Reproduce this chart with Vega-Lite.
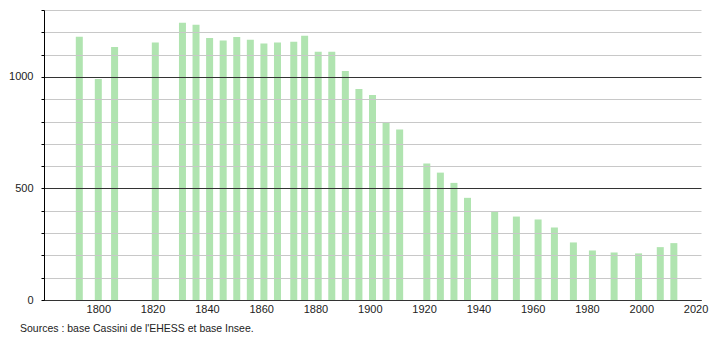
{
  "$schema": "https://vega.github.io/schema/vega-lite/v6.json",
  "width": 657,
  "height": 290,
  "autosize": "none",
  "padding": {"left": 44, "top": 10, "right": 9, "bottom": 40},
  "background": "white",
  "config": {"view": {"stroke": null}, "font": "Liberation Sans"},
  "title": {"text": "Sources : base Cassini de l'EHESS et base Insee.", "orient": "bottom", "anchor": "start", "frame": "group", "dx": -24, "offset": 10, "fontSize": 10.5, "fontWeight": "normal", "color": "#222", "font": "Liberation Sans"},
  "data": {"values": [
    {"annee": 1793, "population": 1180},
    {"annee": 1800, "population": 991},
    {"annee": 1806, "population": 1134},
    {"annee": 1821, "population": 1154},
    {"annee": 1831, "population": 1243},
    {"annee": 1836, "population": 1234},
    {"annee": 1841, "population": 1175},
    {"annee": 1846, "population": 1163},
    {"annee": 1851, "population": 1179},
    {"annee": 1856, "population": 1167},
    {"annee": 1861, "population": 1150},
    {"annee": 1866, "population": 1154},
    {"annee": 1872, "population": 1158},
    {"annee": 1876, "population": 1185},
    {"annee": 1881, "population": 1113},
    {"annee": 1886, "population": 1113},
    {"annee": 1891, "population": 1027},
    {"annee": 1896, "population": 946},
    {"annee": 1901, "population": 919},
    {"annee": 1906, "population": 797},
    {"annee": 1911, "population": 764},
    {"annee": 1921, "population": 612},
    {"annee": 1926, "population": 571},
    {"annee": 1931, "population": 525},
    {"annee": 1936, "population": 458},
    {"annee": 1946, "population": 398},
    {"annee": 1954, "population": 374},
    {"annee": 1962, "population": 361},
    {"annee": 1968, "population": 325},
    {"annee": 1975, "population": 258},
    {"annee": 1982, "population": 222},
    {"annee": 1990, "population": 213},
    {"annee": 1999, "population": 209},
    {"annee": 2007, "population": 237},
    {"annee": 2012, "population": 255}
  ]},
  "mark": {"type": "bar", "width": 7, "color": "#b0e4b0"},
  "encoding": {
    "x": {
      "field": "annee", "type": "quantitative",
      "scale": {"domain": [1780, 2022], "nice": false, "zero": false, "padding": 0},
      "axis": {
        "title": null, "values": [1800, 1820, 1840, 1860, 1880, 1900, 1920, 1940, 1960, 1980, 2000, 2020],
        "format": "d", "ticks": false, "labelPadding": 3, "grid": false, "labelFlush": false,
        "domainColor": "#000", "domainWidth": 1, "labelFontSize": 11, "labelColor": "#222", "labelFont": "Liberation Sans"
      }
    },
    "y": {
      "field": "population", "type": "quantitative",
      "scale": {"domain": [0, 1300], "nice": false, "padding": 0},
      "axis": {
        "title": null,
        "values": [0, 100, 200, 300, 400, 500, 600, 700, 800, 900, 1000, 1100, 1200, 1300],
        "labelExpr": "datum.value % 500 === 0 ? format(datum.value, 'd') : ''",
        "grid": true,
        "gridColor": {"condition": {"test": "datum.value % 500 === 0", "value": "#333333"}, "value": "#c8c8c8"},
        "gridWidth": 1,
        "tickSize": 3, "tickColor": "#000", "labelPadding": 8,
        "domainColor": "#000", "domainWidth": 1,
        "labelFontSize": 11, "labelColor": "#222", "labelFont": "Liberation Sans",
        "zindex": 1
      }
    }
  }
}
